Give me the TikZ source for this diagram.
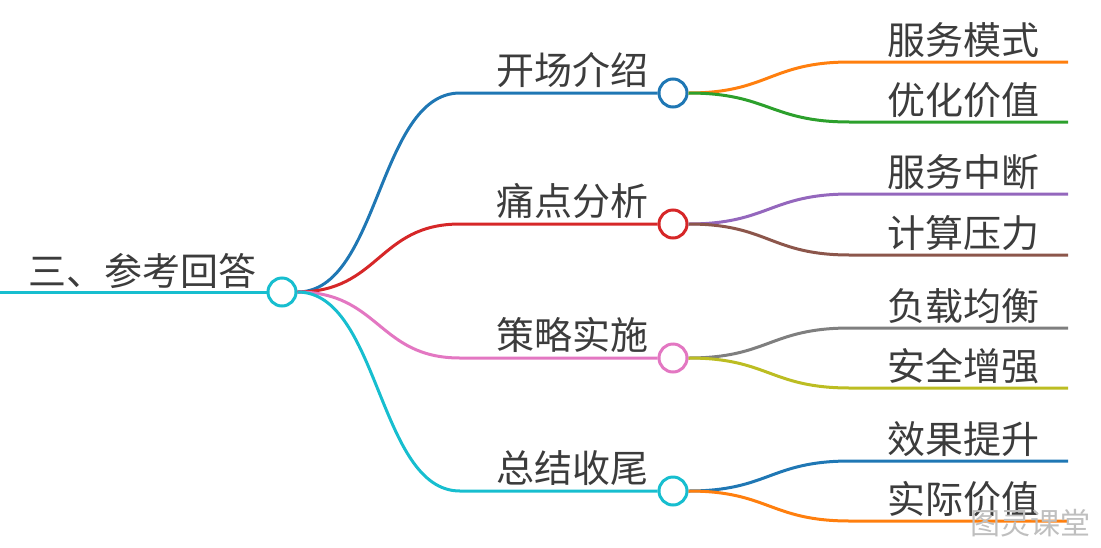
\documentclass[tikz,border=0pt]{standalone}
\usepackage{fontspec}
\newfontfamily\cjk{Noto Sans CJK SC}
\definecolor{mapblue}{RGB}{31,119,180}
\definecolor{maporange}{RGB}{255,127,14}
\definecolor{mapgreen}{RGB}{44,160,44}
\definecolor{mapred}{RGB}{214,39,40}
\definecolor{mappurple}{RGB}{148,103,189}
\definecolor{mapbrown}{RGB}{140,86,75}
\definecolor{mappink}{RGB}{227,119,194}
\definecolor{mapgray}{RGB}{127,127,127}
\definecolor{mapolive}{RGB}{188,189,34}
\definecolor{mapcyan}{RGB}{23,190,207}
\definecolor{textgray}{RGB}{60,60,60}

\begin{document}
\begin{tikzpicture}[x=1pt, y=-1pt, line width=3pt,
  hub/.style={circle, draw, fill=white, line width=3pt, minimum size=28pt, inner sep=0pt},
  lbl/.style={anchor=base east, inner sep=0pt, text=textgray, font=\cjk\fontsize{38}{40}\selectfont}]
\useasboundingbox (0,0) rectangle (1101,547);

% Root
\coordinate (start) at (0,292);
\node[hub, draw=mapcyan] (root) at (282,292) {};
\node[lbl] (roottxt) at (258,285) {三、参考回答};

% Branch hubs
\node[hub, draw=mapblue] (b1) at (673,93) {};
\node[hub, draw=mapred] (b2) at (673,224) {};
\node[hub, draw=mappink] (b3) at (673,358) {};
\node[hub, draw=mapcyan] (b4) at (673,491) {};

% Branch knees
\coordinate (k1) at (460,93);
\coordinate (k2) at (460,224);
\coordinate (k3) at (460,358);
\coordinate (k4) at (460,491);

% Leaf knees and ends
\coordinate (m1) at (850,62);   \coordinate (e1) at (1068,62);
\coordinate (m2) at (850,122);  \coordinate (e2) at (1068,122);
\coordinate (m3) at (850,194);  \coordinate (e3) at (1068,194);
\coordinate (m4) at (850,255);  \coordinate (e4) at (1068,255);
\coordinate (m5) at (850,328);  \coordinate (e5) at (1068,328);
\coordinate (m6) at (850,388);  \coordinate (e6) at (1068,388);
\coordinate (m7) at (850,461);  \coordinate (e7) at (1068,461);
\coordinate (m8) at (850,521);  \coordinate (e8) at (1068,521);

% Root line
\draw[mapcyan] (start) -- (root);

% Branches
\draw[mapblue] (root.east) .. controls +(82,0) and +(-82,0) .. (k1) -- (b1);
\draw[mapred] (root.east) .. controls +(82,0) and +(-82,0) .. (k2) -- (b2);
\draw[mappink] (root.east) .. controls +(82,0) and +(-82,0) .. (k3) -- (b3);
\draw[mapcyan] (root.east) .. controls +(82,0) and +(-82,0) .. (k4) -- (b4);

% Leaves
\draw[maporange] (b1.east) .. controls +(80,0) and +(-80,0) .. (m1) -- (e1);
\draw[mapgreen] (b1.east) .. controls +(80,0) and +(-80,0) .. (m2) -- (e2);
\draw[mappurple] (b2.east) .. controls +(80,0) and +(-80,0) .. (m3) -- (e3);
\draw[mapbrown] (b2.east) .. controls +(80,0) and +(-80,0) .. (m4) -- (e4);
\draw[mapgray] (b3.east) .. controls +(80,0) and +(-80,0) .. (m5) -- (e5);
\draw[mapolive] (b3.east) .. controls +(80,0) and +(-80,0) .. (m6) -- (e6);
\draw[mapblue] (b4.east) .. controls +(80,0) and +(-80,0) .. (m7) -- (e7);
\draw[maporange] (b4.east) .. controls +(80,0) and +(-80,0) .. (m8) -- (e8);

% Branch labels
\node[lbl] (t1) at (650,84) {开场介绍};
\node[lbl] (t2) at (650,215) {痛点分析};
\node[lbl] (t3) at (650,349) {策略实施};
\node[lbl] (t4) at (650,482) {总结收尾};

% Leaf labels
\node[lbl] (s1) at (1041,54) {服务模式};
\node[lbl] (s2) at (1041,114) {优化价值};
\node[lbl] (s3) at (1041,186) {服务中断};
\node[lbl] (s4) at (1041,247) {计算压力};
\node[lbl] (s5) at (1041,320) {负载均衡};
\node[lbl] (s6) at (1041,380) {安全增强};
\node[lbl] (s7) at (1041,453) {效果提升};
\node[lbl] (s8) at (1041,513) {实际价值};

% Watermark
\node[anchor=base east, inner sep=0pt, text=black!25, font=\cjk\fontsize{30}{32}\selectfont] (mark) at (1092,534) {图灵课堂};
\end{tikzpicture}
\end{document}
